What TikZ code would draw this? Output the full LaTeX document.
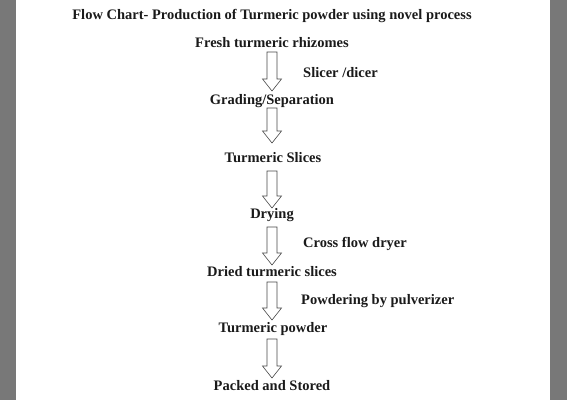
\documentclass[tikz,border=0pt]{standalone}
\usepackage{fontspec}
\setmainfont{Liberation Serif}
\usetikzlibrary{calc}
\definecolor{frame}{HTML}{787878}
\definecolor{ink}{HTML}{1A1A1A}
\tikzset{
  lbl/.style={font=\fontsize{14.5}{16}\selectfont\bfseries, text=ink, inner sep=0pt},
  side/.style={lbl, anchor=west},
  hollow/.style={draw=ink!80, line width=0.6pt, fill=white,
    to path={let \p1=(\tikztostart), \p2=(\tikztotarget) in
      (\x1-5pt,\y1) -- (\x1+5pt,\y1) -- (\x1+5pt,\y2+12pt) -- (\x1+9.5pt,\y2+12pt)
      -- (\x2,\y2) -- (\x1-9.5pt,\y2+12pt) -- (\x1-5pt,\y2+12pt) -- cycle}}
}
\begin{document}
\begin{tikzpicture}[x=1pt,y=-1pt]
\fill[frame] (0,0) rectangle (567,400);
\fill[white] (16,0) rectangle (550,400);
\useasboundingbox (0,0) rectangle (567,400);
\node[lbl] (title) at (272,16) {Flow Chart- Production of Turmeric powder using novel process};
\node[lbl] (n1) at (272,43) {Fresh turmeric rhizomes};
\node[lbl] (n2) at (272,101) {Grading/Separation};
\node[lbl] (n3) at (273,158) {Turmeric Slices};
\node[lbl] (n4) at (272,215) {Drying};
\node[lbl] (n5) at (272,272) {Dried turmeric slices};
\node[lbl] (n6) at (273,329) {Turmeric powder};
\node[lbl] (n7) at (272,386) {Packed and Stored};
\node[side] (s1) at (303,73) {Slicer /dicer};
\node[side] (s2) at (303,244) {Cross flow dryer};
\node[side] (s3) at (301,301) {Powdering by pulverizer};
\coordinate (a1s) at (272,52);  \coordinate (a1e) at (272,91);
\coordinate (a2s) at (272,108); \coordinate (a2e) at (272,143);
\coordinate (a3s) at (272,171); \coordinate (a3e) at (272,208);
\coordinate (a4s) at (272,227); \coordinate (a4e) at (272,265);
\coordinate (a5s) at (272,282); \coordinate (a5e) at (272,320);
\coordinate (a6s) at (272,339); \coordinate (a6e) at (272,378);
\foreach \i in {1,...,6} { \path[hollow] (a\i s) to (a\i e); }
\end{tikzpicture}
\end{document}
